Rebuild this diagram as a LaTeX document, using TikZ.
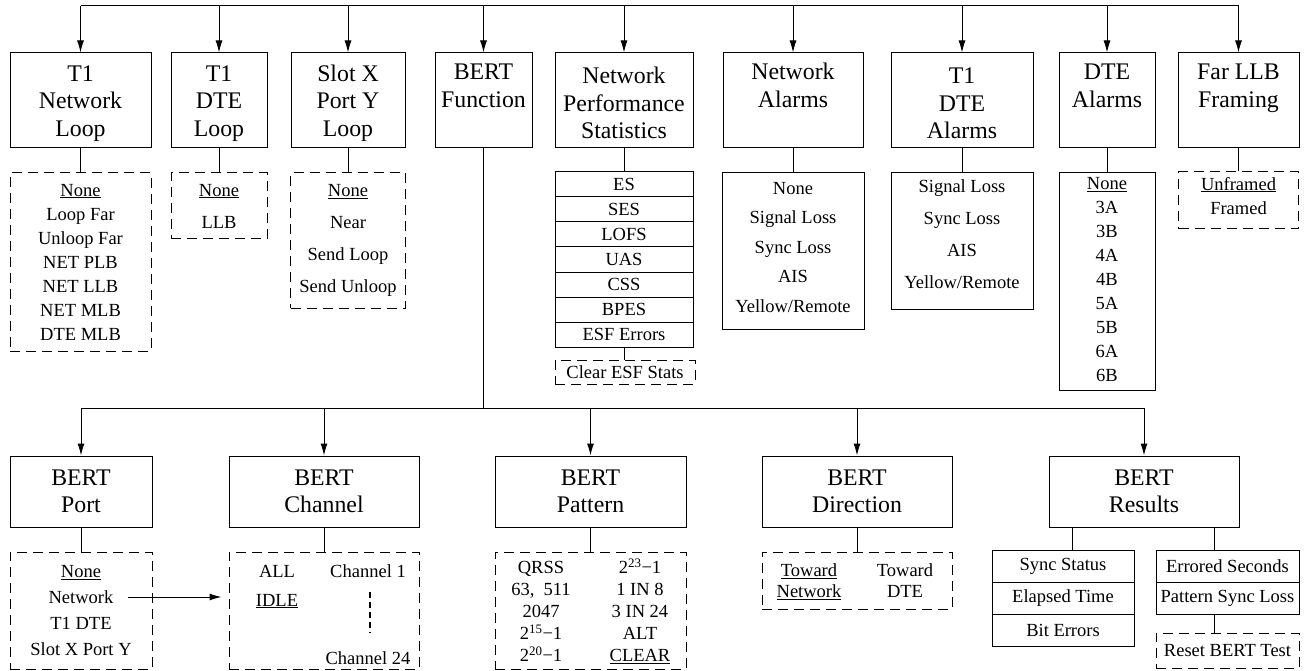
\documentclass[tikz,border=0pt]{standalone}
\usepackage{fontspec}
\setmainfont{Liberation Serif}
\usepackage{array}
\usetikzlibrary{arrows.meta,positioning}

% taller first line for the top row of menus
\newcommand{\menutop}{\rule{0pt}{22pt}}
% extra depth under a last line
\newcommand{\tailroom}[1]{\rule[-#1]{0pt}{#1}}

\begin{document}
\begin{tikzpicture}[x=1pt, y=-1pt, line width=1pt]
    \tikzstyle{menu} = [rectangle, draw, align=center, inner sep=0pt, font=\fontsize{23.8}{27.5}\selectfont]
    \tikzstyle{pick} = [rectangle, draw, dash pattern=on 10pt off 6pt, align=center, inner sep=0pt, font=\fontsize{18.5}{24}\selectfont]
    \tikzstyle{readout} = [rectangle, draw, align=center, inner sep=0pt, font=\fontsize{18.5}{24}\selectfont]
    \tikzstyle{cell} = [rectangle, draw, inner sep=0pt, outer sep=0pt, font=\fontsize{18.5}{22}\selectfont]
    \tikzstyle{item} = [inner sep=0pt, font=\fontsize{18.5}{22}\selectfont]
    \tikzstyle{feed} = [-{Latex[length=12pt, width=7pt]}]

    \useasboundingbox (0,0) rectangle (1304,671);

    % Top menu row
    \node[menu, minimum width=141pt, minimum height=95pt] (netloop) at (80.5,100.5) {\menutop T1\\Network\\Loop};
    \node[menu, minimum width=96pt, minimum height=95pt] (dteloop) at (219,100.5) {\menutop T1\\DTE\\Loop};
    \node[menu, minimum width=114pt, minimum height=95pt] (portloop) at (348,100.5) {\menutop Slot X\\Port Y\\Loop};
    \node[menu, minimum width=97pt, minimum height=95pt] (bertfn) at (483.5,100.5) {\menutop BERT\\Function\\\strut};
    \node[menu, minimum width=138pt, minimum height=95pt] (perfstats) at (624,100.5) {\menutop Network\\Performance\\Statistics};
    \node[menu, minimum width=140pt, minimum height=95pt] (netalarms) at (793,100.5) {\menutop Network\\Alarms\\\strut};
    \node[menu, minimum width=142pt, minimum height=95pt] (t1alarms) at (962,100.5) {\menutop T1\\DTE\\Alarms};
    \node[menu, minimum width=96pt, minimum height=95pt] (dtealarms) at (1107,100.5) {\menutop DTE\\Alarms\\\strut};
    \node[menu, minimum width=121pt, minimum height=95pt] (farllb) at (1238.5,100.5) {\menutop Far LLB\\Framing\\\strut};

    % Top bus
    \coordinate (topbus) at (0,6);
    \draw (netloop.north |- topbus) -- (farllb.north |- topbus);
    \foreach \n in {netloop, dteloop, portloop, bertfn, perfstats, netalarms, t1alarms, dtealarms, farllb}
        \draw[feed] (\n.north |- topbus) -- (\n.north);

    % Choices under the top row
    \node[pick, minimum width=141pt, minimum height=178pt, below=24pt of netloop] (netloop-list) {\underline{None}\\Loop Far\\Unloop Far\\NET PLB\\NET LLB\\NET MLB\\DTE MLB};
    \node[pick, minimum width=96pt, minimum height=66pt, below=24pt of dteloop, font=\fontsize{18.5}{32}\selectfont] (dteloop-list) {\underline{None}\\LLB};
    \node[pick, minimum width=115pt, minimum height=135pt, below=24pt of portloop, font=\fontsize{18.5}{32}\selectfont] (portloop-list) {\underline{None}\\Near\\Send Loop\\Send Unloop};
    \node[readout, minimum width=142pt, minimum height=156pt, below=24pt of netalarms, font=\fontsize{18.5}{29.5}\selectfont] (netalarms-list) {None\\Signal Loss\\Sync Loss\\AIS\\Yellow/Remote\tailroom{8pt}};
    \node[readout, minimum width=142pt, minimum height=136pt, below=24pt of t1alarms, font=\fontsize{18.5}{32}\selectfont] (t1alarms-list) {Signal Loss\\Sync Loss\\AIS\\Yellow/Remote\tailroom{14pt}};
    \node[readout, minimum width=96pt, minimum height=217pt, below=24pt of dtealarms] (dtealarms-list) {\underline{None}\\3A\\3B\\4A\\4B\\5A\\5B\\6A\\6B\tailroom{4pt}};
    \node[pick, minimum width=120pt, minimum height=57pt, below=23pt of farllb] (farllb-list) {\underline{Unframed}\\Framed\tailroom{10pt}};
    \foreach \n in {netloop, dteloop, portloop, netalarms, t1alarms, dtealarms, farllb}
        \draw (\n.south) -- (\n.south |- \n-list.north);

    % Statistics table
    \foreach \txt [count=\i] in {ES, SES, LOFS, UAS, CSS, BPES, ESF Errors}
        \node[cell, minimum width=138pt, minimum height=25pt] (stat\i) at (624,{159.5+25*\i}) {\txt};
    \node[pick, minimum width=140pt, minimum height=24pt] (clearesf) at (625,372) {Clear ESF Stats};
    \draw (perfstats.south) -- (stat1.north);
    \draw (stat7.south) -- (stat7.south |- clearesf.north);

    % BERT row
    \node[menu, minimum width=142pt, minimum height=71pt] (bertport) at (81,491.5) {BERT\\Port};
    \node[menu, minimum width=190pt, minimum height=71pt] (bertchan) at (324,491.5) {BERT\\Channel};
    \node[menu, minimum width=191pt, minimum height=71pt] (bertpat) at (590.5,491.5) {BERT\\Pattern};
    \node[menu, minimum width=190pt, minimum height=71pt] (bertdir) at (857,491.5) {BERT\\Direction};
    \node[menu, minimum width=190pt, minimum height=71pt] (bertres) at (1144,491.5) {BERT\\Results};

    \coordinate (lowbus) at (0,408);
    \draw (bertfn.south) -- (bertfn.south |- lowbus);
    \draw (bertport.north |- lowbus) -- (bertres.north |- lowbus);
    \foreach \n in {bertport, bertchan, bertpat, bertdir, bertres}
        \draw[feed] (\n.north |- lowbus) -- (\n.north);

    % BERT choices
    \node[pick, minimum width=142pt, minimum height=117pt, below=24pt of bertport, font=\fontsize{18.5}{26}\selectfont] (bertport-list) {\underline{None}\\Network\\T1 DTE\\Slot X Port Y};
    \node[pick, minimum width=190pt, minimum height=117pt, below=24pt of bertchan] (bertchan-list) {};
    \node[item] (chall) at (277,571) {ALL};
    \node[item] (chidle) at (277,601) {\underline{IDLE}};
    \node[item] (chfirst) at (368,571) {Channel 1};
    \node[item] (chlast) at (368,658) {Channel 24};
    \draw[line width=1.6pt, dash pattern=on 6pt off 4pt] (370,592) -- (370,633);

    \node[pick, minimum width=191pt, minimum height=117pt, below=24pt of bertpat, font=\fontsize{18.5}{22}\selectfont] (bertpat-list) {\raisebox{-3pt}[\height][\depth]{\begin{tabular}{@{}>{\centering\arraybackslash}p{80pt}@{\hspace{19pt}}>{\centering\arraybackslash}p{80pt}@{}}
        QRSS & 2\textsuperscript{23}−1\\
        63,\ \ 511 & 1 IN 8\\
        2047 & 3 IN 24\\
        2\textsuperscript{15}−1 & ALT\\
        2\textsuperscript{20}−1 & \underline{CLEAR}
    \end{tabular}}};
    \node[pick, minimum width=190pt, minimum height=57pt, below=24pt of bertdir, font=\fontsize{18.5}{21}\selectfont] (bertdir-list) {\raisebox{-2.5pt}[\height][\depth]{\begin{tabular}{@{}>{\centering\arraybackslash}p{80pt}@{\hspace{16pt}}>{\centering\arraybackslash}p{80pt}@{}}
        \underline{Toward} & Toward\\
        \underline{Network} & DTE
    \end{tabular}}};
    \foreach \n in {bertport, bertchan, bertpat, bertdir}
        \draw (\n.south) -- (\n-list.north);

    \coordinate (netout) at (128,597);
    \draw[feed, shorten >=7pt] (netout) -- (netout -| bertchan-list.west);

    % BERT results tables
    \foreach \txt [count=\i] in {Sync Status, Elapsed Time, Bit Errors}
        \node[cell, minimum width=142pt, minimum height=32pt] (sync\i) at (1063,{534+32*\i}) {\txt};
    \foreach \txt [count=\i] in {Errored Seconds, Pattern Sync Loss}
        \node[cell, minimum width=143pt, minimum height=32pt] (err\i) at (1227.5,{534+32*\i}) {\txt};
    \node[pick, minimum width=143pt, minimum height=35pt] (resetbert) at (1227.5,650.5) {Reset BERT Test};
    \draw ([xshift=-72pt]bertres.south) -- ([xshift=-72pt]bertres.south |- sync1.north);
    \draw ([xshift=70pt]bertres.south) -- ([xshift=70pt]bertres.south |- err1.north);
    \draw ([xshift=-13.5pt]err2.south) -- ([xshift=-13.5pt]err2.south |- resetbert.north);
\end{tikzpicture}
\end{document}
